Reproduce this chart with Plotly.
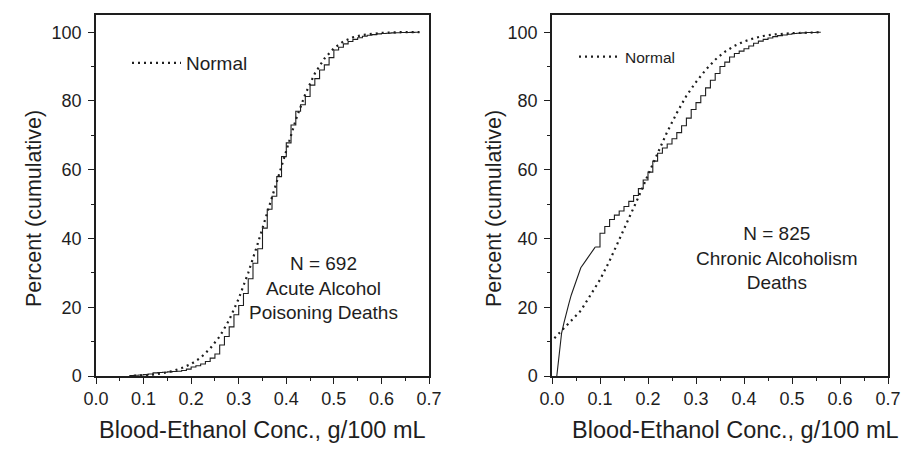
import plotly.graph_objects as go

# ---------------- data ----------------
x_tick_vals = [0.0, 0.1, 0.2, 0.3, 0.4, 0.5, 0.6, 0.7]
x_tick_text = ["0.0", "0.1", "0.2", "0.3", "0.4", "0.5", "0.6", "0.7"]
y_tick_vals = [0, 20, 40, 60, 80, 100]
y_tick_text = ["0", "20", "40", "60", "80", "100"]

# Acute alcohol poisoning deaths: empirical cumulative percent
acute_conc = [0.07, 0.08, 0.09, 0.10, 0.11, 0.12, 0.13, 0.14, 0.15, 0.16,
              0.17, 0.18, 0.19, 0.20, 0.21, 0.22, 0.23, 0.24, 0.25, 0.26,
              0.27, 0.28, 0.29, 0.30, 0.31, 0.32, 0.33, 0.34, 0.35, 0.36,
              0.37, 0.38, 0.39, 0.40, 0.41, 0.42, 0.43, 0.44, 0.45, 0.46,
              0.47, 0.48, 0.49, 0.50, 0.51, 0.52, 0.53, 0.54, 0.55, 0.56,
              0.57, 0.58, 0.59, 0.60, 0.61, 0.62, 0.63, 0.64, 0.65, 0.66,
              0.67, 0.68]
acute_pct = [0.1, 0.2, 0.3, 0.4, 0.6, 0.9, 1.0, 1.1, 1.2, 1.3,
             1.4, 1.6, 2.0, 2.6, 3.0, 3.5, 4.2, 5.2, 6.4, 9.0,
             11.5, 14.3, 17.8, 20.5, 24.0, 28.3, 32.8, 37.0, 43.0, 48.5,
             52.3, 58.0, 63.8, 67.8, 73.0, 77.0, 78.9, 81.3, 84.6, 86.5,
             89.0, 90.5, 92.6, 94.8, 95.6, 96.6, 97.3, 97.9, 98.4, 98.8,
             99.1, 99.3, 99.5, 99.6, 99.7, 99.8, 99.85, 99.9, 99.9, 99.95,
             100.0, 100.0]
# Acute: fitted normal curve
acute_norm_conc = [0.08, 0.10, 0.12, 0.14, 0.16, 0.18, 0.20, 0.22, 0.24, 0.26,
                   0.28, 0.30, 0.32, 0.34, 0.36, 0.38, 0.40, 0.42, 0.44, 0.46,
                   0.48, 0.50, 0.52, 0.54, 0.56, 0.60, 0.64, 0.68]
acute_norm_pct = [0.05, 0.2, 0.4, 0.8, 1.4, 2.3, 3.5, 5.3, 8.0, 11.5,
                  16.3, 22.5, 30.0, 38.5, 47.5, 57.0, 66.0, 74.5, 82.0, 88.0,
                  92.3, 95.3, 97.3, 98.5, 99.2, 99.8, 100.0, 100.0]

# Chronic alcoholism deaths: empirical cumulative percent (low, dense part)
chronic_low_conc = [0.010, 0.015, 0.020, 0.025, 0.030, 0.035, 0.040, 0.045,
                    0.050, 0.055, 0.060, 0.070, 0.080, 0.090]
chronic_low_pct = [0.0, 7.0, 12.5, 15.5, 18.5, 21.0, 23.5, 25.5,
                   28.0, 30.0, 31.5, 33.5, 35.5, 37.5]
# Chronic: stepped part
chronic_conc = [0.09, 0.10, 0.11, 0.12, 0.13, 0.14, 0.15, 0.16, 0.17, 0.18,
                0.19, 0.20, 0.21, 0.22, 0.23, 0.24, 0.25, 0.26, 0.27, 0.28,
                0.29, 0.30, 0.31, 0.32, 0.33, 0.34, 0.35, 0.36, 0.37, 0.38,
                0.39, 0.40, 0.41, 0.42, 0.43, 0.44, 0.45, 0.46, 0.47, 0.48,
                0.49, 0.50, 0.51, 0.52, 0.53, 0.54, 0.55, 0.56]
chronic_pct = [37.5, 41.5, 43.5, 45.5, 46.8, 48.0, 49.3, 50.8, 52.5, 54.5,
               57.0, 59.3, 62.5, 64.8, 66.3, 67.5, 69.0, 70.8, 72.8, 75.0,
               77.5, 79.5, 81.5, 83.8, 86.0, 88.0, 90.0, 91.3, 92.8, 93.8,
               94.5, 95.2, 96.0, 96.8, 97.4, 97.9, 98.3, 98.7, 99.0, 99.2,
               99.4, 99.6, 99.7, 99.8, 99.9, 99.9, 100.0, 100.0]
# Chronic: fitted normal curve
chronic_norm_conc = [0.005, 0.03, 0.06, 0.08, 0.10, 0.12, 0.14, 0.16, 0.18, 0.20,
                     0.22, 0.24, 0.26, 0.28, 0.30, 0.32, 0.34, 0.36, 0.38, 0.40,
                     0.42, 0.44, 0.46, 0.50, 0.56]
chronic_norm_pct = [11.0, 14.5, 19.0, 23.5, 28.0, 33.5, 39.5, 45.5, 52.0, 58.5,
                    65.0, 71.0, 76.5, 81.5, 85.5, 89.0, 92.0, 94.3, 96.0, 97.3,
                    98.2, 98.9, 99.3, 99.7, 100.0]

x_title = "Blood-Ethanol Conc., g/100 mL"
y_title = "Percent (cumulative)"
acute_label = "N = 692<br>Acute Alcohol<br>Poisoning Deaths"
chronic_label = "N = 825<br>Chronic Alcoholism<br>Deaths"

# ---------------- styling ----------------
FONT = "Liberation Sans, Arial, Helvetica, sans-serif"
INK = "#1e1e1e"
W, H = 904, 449


def px_x(p):                 # page pixel -> paper fraction
    return p / W


def px_y(p):
    return 1 - p / H


left_dom = [px_x(96), px_x(429)]
right_dom = [px_x(552), px_x(888)]
y_dom = [px_y(376), px_y(15)]
XR = [0, 0.7]
YR = [0, 105]

fig = go.Figure()
step_line = dict(color=INK, width=1.1)
dot_line = dict(color=INK, width=2.2, dash="2px,4px")

fig.add_trace(go.Scatter(x=acute_conc, y=acute_pct, mode="lines",
                         line=dict(shape="hv", **step_line), showlegend=False,
                         xaxis="x", yaxis="y"))
fig.add_trace(go.Scatter(x=acute_norm_conc, y=acute_norm_pct, mode="lines",
                         line=dot_line, name="Normal", legend="legend",
                         xaxis="x", yaxis="y"))
fig.add_trace(go.Scatter(x=chronic_low_conc, y=chronic_low_pct, mode="lines",
                         line=step_line, showlegend=False,
                         xaxis="x2", yaxis="y2"))
fig.add_trace(go.Scatter(x=chronic_conc, y=chronic_pct, mode="lines",
                         line=dict(shape="hv", **step_line), showlegend=False,
                         xaxis="x2", yaxis="y2"))
fig.add_trace(go.Scatter(x=chronic_norm_conc, y=chronic_norm_pct, mode="lines",
                         line=dot_line, name="Normal", legend="legend2",
                         xaxis="x2", yaxis="y2"))

tickfont = dict(family=FONT, size=18, color=INK)


def xmain(dom, anchor):
    return dict(domain=dom, anchor=anchor, range=XR, tickmode="array",
                tickvals=x_tick_vals, ticktext=x_tick_text,
                ticks="outside", ticklen=6, tickwidth=1.3, tickcolor=INK,
                minor=dict(dtick=0.05, tick0=0, ticks="outside", ticklen=3,
                           tickwidth=1.2, tickcolor=INK),
                showline=True, mirror=True, linecolor=INK, linewidth=1.5,
                showgrid=False, zeroline=False, tickfont=tickfont,
                automargin=False)


def xtop(over, anchor):
    return dict(overlaying=over, anchor=anchor, side="top", range=XR,
                tickmode="array", tickvals=x_tick_vals,
                ticks="inside", ticklen=6, tickwidth=1.3, tickcolor=INK,
                minor=dict(dtick=0.05, tick0=0, ticks="inside", ticklen=3,
                           tickwidth=1.2, tickcolor=INK),
                showticklabels=False, showline=False, showgrid=False,
                zeroline=False, automargin=False)


def ymain(anchor):
    return dict(domain=y_dom, anchor=anchor, range=YR, tickmode="array",
                tickvals=y_tick_vals, ticktext=y_tick_text,
                ticks="outside", ticklen=6, tickwidth=1.3, tickcolor=INK,
                minor=dict(dtick=10, tick0=0, ticks="outside", ticklen=3,
                           tickwidth=1.2, tickcolor=INK),
                showline=True, mirror=True, linecolor=INK, linewidth=1.5,
                showgrid=False, zeroline=False, tickfont=tickfont,
                ticklabelstandoff=3, automargin=False)


def yright(over, anchor):
    return dict(overlaying=over, anchor=anchor, side="right", range=YR,
                tickmode="array", tickvals=y_tick_vals,
                ticks="outside", ticklen=6, tickwidth=1.3, tickcolor=INK,
                minor=dict(dtick=10, tick0=0, ticks="outside", ticklen=3,
                           tickwidth=1.2, tickcolor=INK),
                showticklabels=False, showline=False, showgrid=False,
                zeroline=False, automargin=False)


xtitle_font = dict(family=FONT, size=23.5, color=INK)
ytitle_font = dict(family=FONT, size=21.5, color=INK)
label_font = dict(family=FONT, size=19, color=INK)


def note(text, x, y, font, angle=0):
    return dict(text=text, x=px_x(x), y=px_y(y), xref="paper", yref="paper",
                xanchor="center", yanchor="middle", showarrow=False,
                font=font, align="center", textangle=angle)


fig.update_layout(
    width=W, height=H,
    margin=dict(l=0, r=0, t=0, b=0, autoexpand=False),
    paper_bgcolor="white", plot_bgcolor="white",
    font=dict(family=FONT, color=INK),
    xaxis=xmain(left_dom, "y"),
    yaxis=ymain("x"),
    xaxis2=xmain(right_dom, "y2"),
    yaxis2=ymain("x2"),
    xaxis3=xtop("x", "y"),
    yaxis3=yright("y", "x"),
    xaxis4=xtop("x2", "y2"),
    yaxis4=yright("y2", "x2"),
    legend=dict(x=px_x(127), y=px_y(44), xanchor="left", yanchor="top",
                bgcolor="rgba(0,0,0,0)", borderwidth=0, itemwidth=49,
                font=dict(family=FONT, size=19, color=INK)),
    legend2=dict(x=px_x(574), y=px_y(40), xanchor="left", yanchor="top",
                 bgcolor="rgba(0,0,0,0)", borderwidth=0, itemwidth=41,
                 font=dict(family=FONT, size=15.5, color=INK)),
    annotations=[
        note(acute_label, 323, 288, label_font),
        note(chronic_label, 777, 258, label_font),
        note(x_title, 262, 430, xtitle_font),
        note(x_title, 735, 430, xtitle_font),
        note(y_title, 34, 209, ytitle_font, -90),
        note(y_title, 494, 209, ytitle_font, -90),
    ],
)

fig.write_html("out.html",
               config={"displayModeBar": False},
               post_script="document.body.style.margin='0';"
                           "document.body.style.overflow='hidden';")
